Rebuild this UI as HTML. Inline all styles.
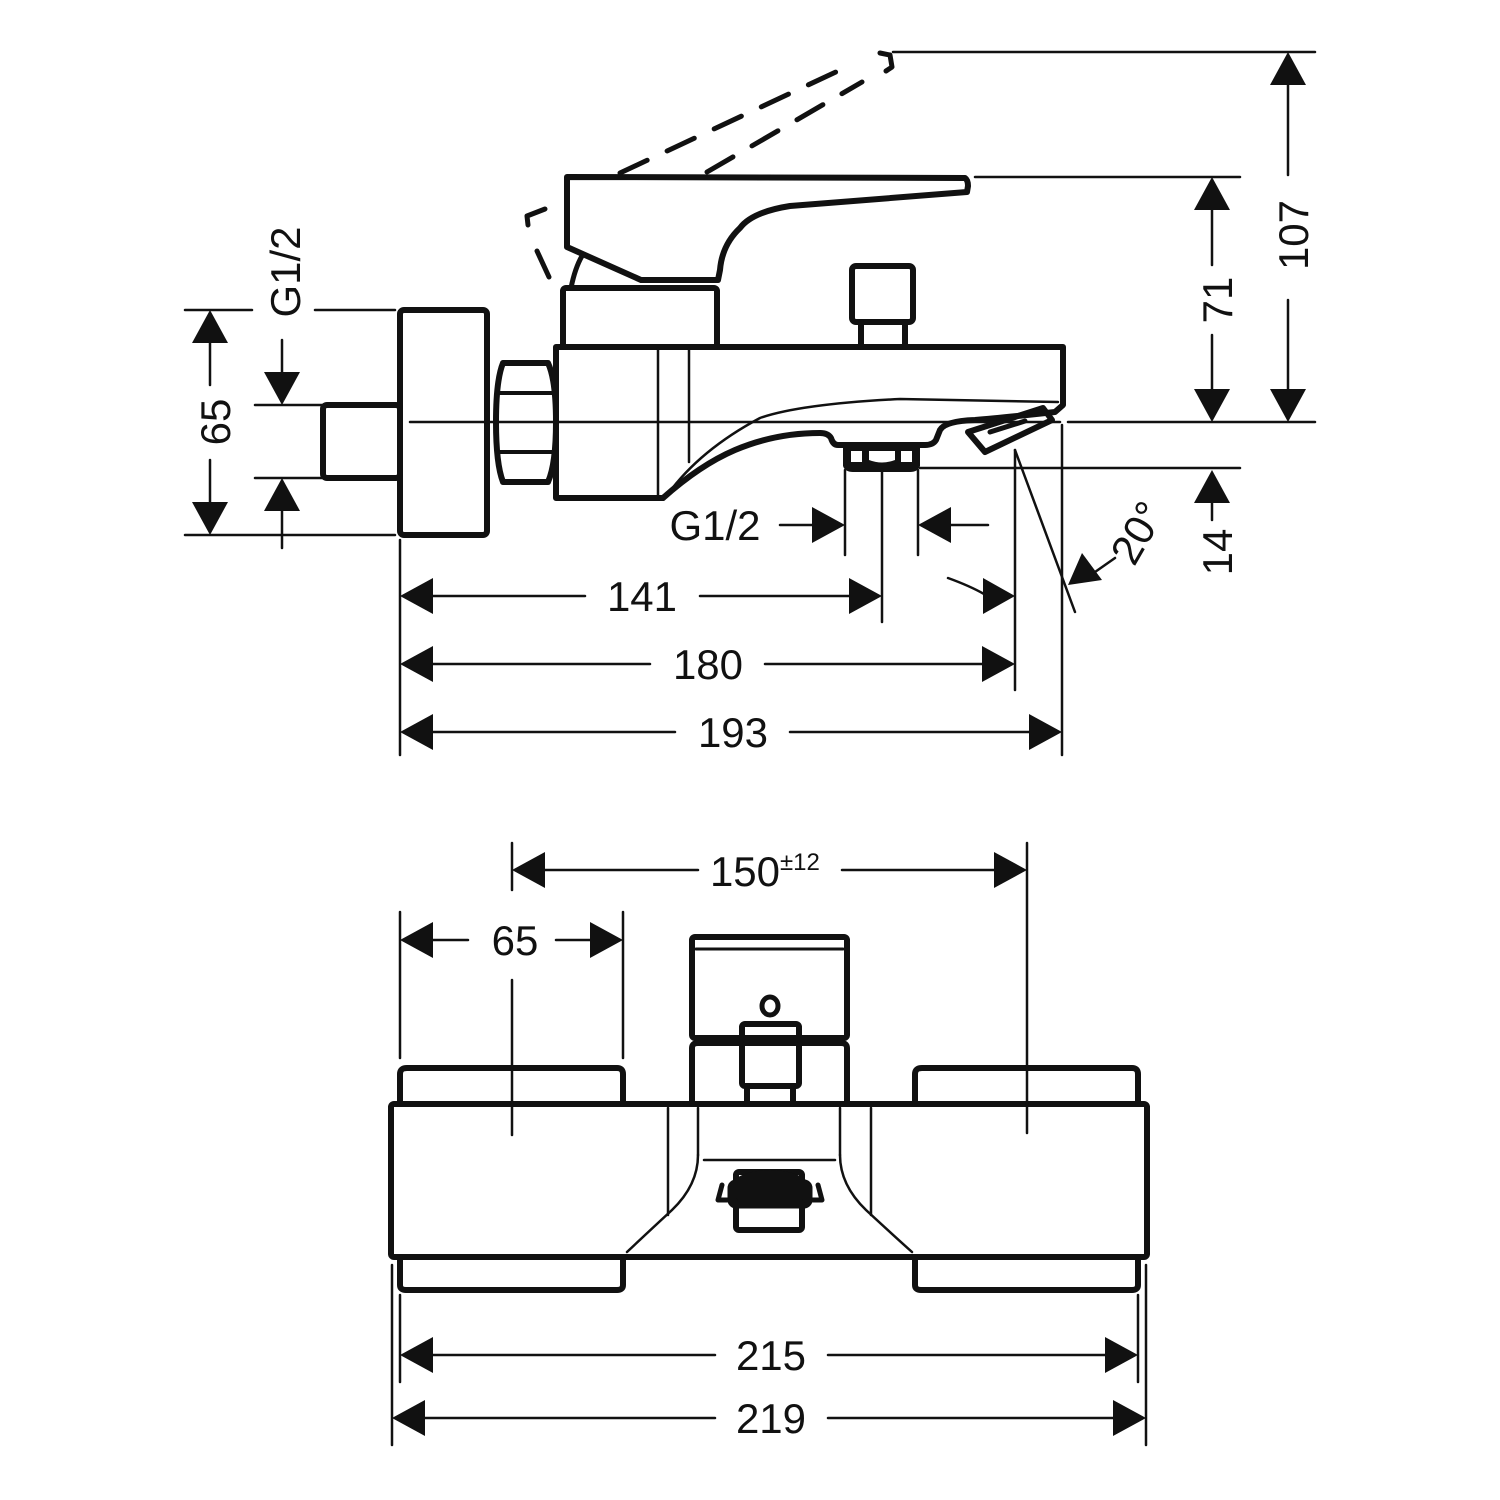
<!DOCTYPE html>
<html><head><meta charset="utf-8"><style>
html,body{margin:0;padding:0;background:#fff;}
svg{display:block;}
text{font-family:"Liberation Sans",sans-serif;font-size:42px;fill:#111;stroke:none;}
</style></head><body>
<svg width="1500" height="1500" viewBox="0 0 1500 1500" xmlns="http://www.w3.org/2000/svg">
<g fill="none" stroke="#111" stroke-linejoin="round" stroke-linecap="round">
<!-- ===== TOP VIEW ===== -->
<g stroke-width="6">
 <rect x="400" y="310" width="87" height="225" rx="4"/>
 <rect x="323" y="405" width="77" height="73" rx="4"/>
 <path d="M503 363 L548 363 Q556 380 556 422 Q556 464 548 482 L503 482 Q496 464 496 422 Q496 380 503 363 Z"/>
 <path d="M500 393 H553 M500 452 H553" stroke-width="4"/>
 <path d="M663 498 H556 V347 H1063 V405 L1055 412 Q1000 418 975 420 Q945 421 940 430 L936 440 Q933 445 925 445 L838 445 Q833 445 831 438 Q828 433 820 433"/>
 <path d="M663 498 Q700 465 735 450 Q775 433 820 433" />
 <rect x="563" y="288" width="154" height="59" rx="3"/>
 <path d="M567 177 L965 178 Q968 180 968 186 L967 192 L790 206 Q752 212 740 228 Q722 245 720 270 L718 280 L641 280 L567 247 Z"/>
 <path d="M571 288 Q575 268 582 256" stroke-width="5"/>
 <rect x="852" y="266" width="61" height="56" rx="4"/>
 <path d="M861 322 V347 M905 322 V347" />
 <!-- outlet -->
 <path d="M968 432 L1043 408 L1052 420 L985 452 Z" stroke-width="6"/>
 <path d="M990 432 L1025 421" stroke-width="5"/>
</g>
<!-- aerator -->
<path d="M843 445 H920 V466 Q918 472 910 472 H853 Q845 472 843 466 Z" fill="#111" stroke="none"/>
<rect x="851" y="451" width="11" height="11" fill="#fff" stroke="none"/>
<path d="M869 451 H895 V460 Q882 465 869 460 Z" fill="#fff" stroke="none"/>
<rect x="901" y="451" width="11" height="11" fill="#fff" stroke="none"/>
<!-- inner lines / spout top -->
<path d="M658 349 V496 M689 349 V462" stroke-width="2.5"/>
<path d="M668 494 Q700 450 760 418 Q800 404 900 399 L1058 402" stroke-width="2.5"/>
<!-- dashed lever -->
<g stroke-width="5">
 <path d="M620 173 L855 63" stroke-dasharray="30 22"/>
 <path d="M707 172 L862 82" stroke-dasharray="30 22"/>
 <path d="M880 53 L890 55 L892 67 L886 71"/>
 <path d="M545 209 L527 216 L528 225"/>
 <path d="M537 251 L549 277"/>
</g>
<!-- extension & dimension lines -->
<g stroke-width="2.5">
 <path d="M893 52 H1315 M975 177 H1240 M1068 422 H1315 M920 468 H1240"/>
 <path d="M410 422 H1060"/>
 <path d="M1288 85 V175 M1288 300 V390"/>
 <path d="M1212 210 V265 M1212 335 V390"/>
 <path d="M1212 500 V520"/>
 <path d="M185 310 H252 M315 310 H395 M185 535 H395 M255 405 H323 M255 478 H323"/>
 <path d="M210 342 V385 M210 460 V503"/>
 <path d="M282 340 V375 M282 508 V548"/>
 <path d="M845 470 V555 M882 470 V622 M918 470 V555 M1015 450 V690 M1062 425 V755 M400 540 V755"/>
 <path d="M780 525 H815 M950 525 H988"/>
 <path d="M432 596 H585 M700 596 H850"/>
 <path d="M432 664 H650 M765 664 H983"/>
 <path d="M432 732 H675 M790 732 H1030"/>
 <path d="M948 578 Q970 586 984 594"/>
 <path d="M1015 450 L1075 612"/>
 <path d="M1095 572 L1115 558"/>
</g>
<g fill="#111" stroke="none">
 <polygon points="1288,52 1270,85 1306,85"/><polygon points="1288,422 1270,389 1306,389"/>
 <polygon points="1212,177 1194,210 1230,210"/><polygon points="1212,422 1194,389 1230,389"/>
 <polygon points="1212,470 1194,503 1230,503"/>
 <polygon points="210,310 192,343 228,343"/><polygon points="210,535 192,502 228,502"/>
 <polygon points="282,405 264,372 300,372"/><polygon points="282,478 264,511 300,511"/>
 <polygon points="845,525 812,507 812,543"/><polygon points="918,525 951,507 951,543"/>
 <polygon points="400,596 433,578 433,614"/><polygon points="882,596 849,578 849,614"/>
 <polygon points="400,664 433,646 433,682"/><polygon points="1015,664 982,646 982,682"/>
 <polygon points="400,732 433,714 433,750"/><polygon points="1062,732 1029,714 1029,750"/>
 <polygon points="1015,596 983,578 983,614"/>
 <polygon points="1068,585 1082,553 1102,580"/>
</g>

<!-- ===== BOTTOM VIEW ===== -->
<g stroke-width="6">
 <rect x="391" y="1104" width="756" height="153" rx="3"/>
 <path d="M400 1104 V1074 Q400 1068 407 1068 L617 1068 Q623 1068 623 1074 V1104"/>
 <path d="M915 1104 V1074 Q915 1068 922 1068 L1132 1068 Q1138 1068 1138 1074 V1104"/>
 <path d="M400 1257 V1285 Q400 1290 406 1290 L617 1290 Q623 1290 623 1285 V1257"/>
 <path d="M915 1257 V1285 Q915 1290 921 1290 L1132 1290 Q1138 1290 1138 1285 V1257"/>
 <path d="M692 1104 V1048 Q692 1043 698 1043 L841 1043 Q847 1043 847 1048 V1104"/>
 <rect x="692" y="937" width="155" height="101" rx="3"/>
 <rect x="742" y="1024" width="57" height="62" rx="3"/>
 <path d="M747 1086 V1104 M793 1086 V1104"/>
 <ellipse cx="770" cy="1006" rx="8" ry="9" stroke-width="5"/>
 <rect x="736" y="1172" width="66" height="58" rx="3"/>
</g>
<path d="M696 949 H843" stroke-width="3"/>
<path d="M696 1042 H742 M799 1042 H843" stroke-width="3"/>
<ellipse cx="770" cy="1188" rx="40" ry="18" fill="#111" stroke="none"/>
<rect x="728" y="1180" width="84" height="28" rx="8" fill="#111"/>
<path d="M722 1185 L718 1200 L735 1200 M818 1185 L822 1200 L805 1200" stroke-width="5"/>
<g stroke-width="2.5">
 <path d="M668 1108 V1215 M698 1108 V1155 M840 1108 V1155 M871 1108 V1215"/>
 <path d="M698 1155 Q698 1185 672 1210 Q645 1235 627 1252"/>
 <path d="M840 1155 Q840 1185 866 1210 Q893 1235 912 1252"/>
 <path d="M704 1160 H835"/>
 <path d="M512 843 V890 M512 980 V1135 M1027 843 V1133"/>
 <path d="M400 912 V1058 M623 912 V1058"/>
 <path d="M545 870 H698 M842 870 H995"/>
 <path d="M432 940 H468 M556 940 H590"/>
 <path d="M400 1295 V1382 M1138 1295 V1382 M392 1265 V1445 M1146 1265 V1445"/>
 <path d="M432 1355 H715 M828 1355 H1105"/>
 <path d="M424 1418 H715 M828 1418 H1113"/>
</g>
<g fill="#111" stroke="none">
 <polygon points="512,870 545,852 545,888"/><polygon points="1027,870 994,852 994,888"/>
 <polygon points="400,940 433,922 433,958"/><polygon points="623,940 590,922 590,958"/>
 <polygon points="400,1355 433,1337 433,1373"/><polygon points="1138,1355 1105,1337 1105,1373"/>
 <polygon points="392,1418 425,1400 425,1436"/><polygon points="1146,1418 1113,1400 1113,1436"/>
</g>
</g>
<g>
<text x="1308" y="235" transform="rotate(-90 1308 235)" text-anchor="middle">107</text>
<text x="1232" y="300" transform="rotate(-90 1232 300)" text-anchor="middle">71</text>
<text x="1232" y="552" transform="rotate(-90 1232 552)" text-anchor="middle">14</text>
<text x="230" y="422" transform="rotate(-90 230 422)" text-anchor="middle">65</text>
<text x="300" y="272" transform="rotate(-90 300 272)" text-anchor="middle">G1/2</text>
<text x="715" y="540" text-anchor="middle">G1/2</text>
<text x="642" y="611" text-anchor="middle">141</text>
<text x="708" y="679" text-anchor="middle">180</text>
<text x="733" y="747" text-anchor="middle">193</text>
<text x="1150" y="540" transform="rotate(-60 1150 540)" text-anchor="middle">20°</text>
<text x="745" y="886" text-anchor="middle">150</text>
<text x="780" y="870" style="font-size:24px">±12</text>
<text x="515" y="955" text-anchor="middle">65</text>
<text x="771" y="1370" text-anchor="middle">215</text>
<text x="771" y="1433" text-anchor="middle">219</text>
</g>
</svg>
</body></html>
